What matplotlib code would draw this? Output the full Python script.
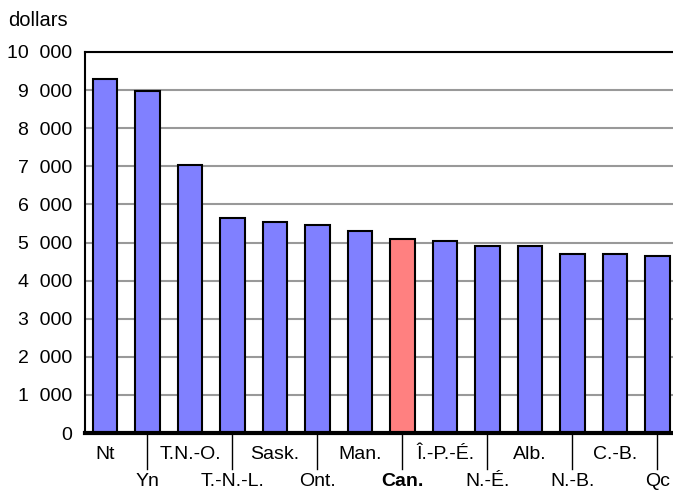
import matplotlib.pyplot as plt

regions = ["Nt", "Yn", "T.N.-O.", "T.-N.-L.", "Sask.", "Ont.", "Man.", "Can.",
           "Î.-P.-É.", "N.-É.", "Alb.", "N.-B.", "C.-B.", "Qc"]
values = [9280, 8970, 7030, 5630, 5550, 5460, 5310, 5100,
          5030, 4900, 4900, 4690, 4690, 4650]
highlight = "Can."

y_ticks = [0, 1000, 2000, 3000, 4000, 5000, 6000, 7000, 8000, 9000, 10000]
y_labels = ["0", "1  000", "2  000", "3  000", "4  000", "5  000", "6  000",
            "7  000", "8  000", "9  000", "10  000"]

plt.rcParams["font.family"] = ["Liberation Sans", "DejaVu Sans"]

fig = plt.figure(figsize=(6.73, 4.92), dpi=100)
ax = fig.add_axes([85 / 673, 1 - 433 / 492, 588 / 673, 381 / 492])

x = list(range(len(regions)))
colors = ["#ff8080" if r == highlight else "#8080ff" for r in regions]
ax.bar(x, values, width=0.58, color=colors, edgecolor="black", linewidth=1.5, zorder=3)

ax.set_ylim(0, 10000)
ax.set_xlim(-0.47, 13.365)
ax.set_yticks(y_ticks)
ax.set_yticklabels(y_labels, fontsize=14)
ax.tick_params(axis="y", length=0, pad=9)
ax.set_xticks([])
ax.yaxis.grid(True, color="#999999", linewidth=1.5, zorder=0)

ax.spines["right"].set_visible(False)
ax.spines["top"].set_linewidth(1.5)
ax.spines["left"].set_linewidth(1.5)
ax.spines["bottom"].set_linewidth(3)
ax.spines["bottom"].set_zorder(4)

# staggered category labels, with separator lines for the lower row
tr = ax.get_xaxis_transform()
for i, name in enumerate(regions):
    weight = "bold" if name == highlight else "normal"
    if i % 2 == 0:
        ax.text(i, -0.057, name, transform=tr, ha="center", va="center",
                fontsize=14, weight=weight)
    else:
        ax.text(i, -0.128, name, transform=tr, ha="center", va="center",
                fontsize=14, weight=weight)
        ax.plot([i, i], [0, -0.094], transform=tr, color="black",
                linewidth=1, clip_on=False)

fig.text(8 / 673, 1 - 20 / 492, "dollars", fontsize=14.5, ha="left", va="center")

fig.savefig("out.png", dpi=100)
